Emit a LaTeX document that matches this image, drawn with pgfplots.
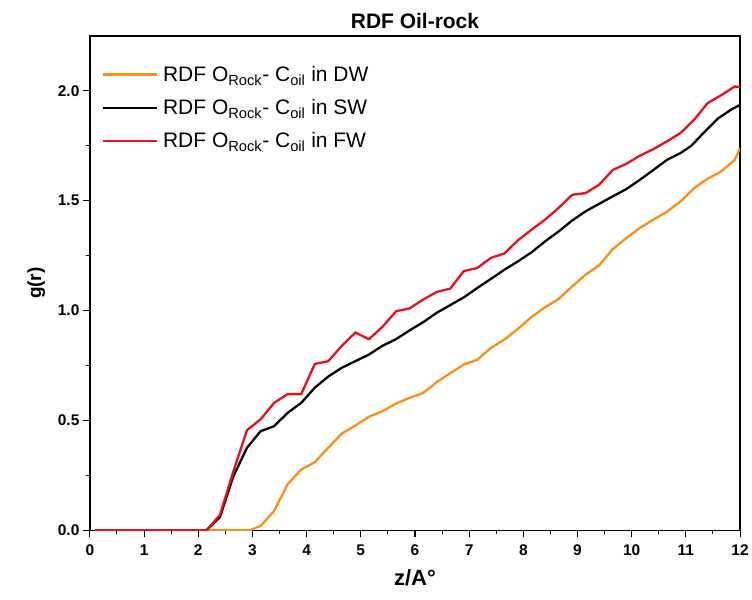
\documentclass[border=0pt]{standalone}
\usepackage{fontspec}
\setmainfont{Liberation Sans}
\usepackage{pgfplots}
\pgfplotsset{compat=1.18}
\definecolor{dworange}{RGB}{255,140,20}
\definecolor{fwred}{RGB}{235,15,25}
\begin{document}
\begin{tikzpicture}
\begin{axis}[
  scale only axis,
  width=651bp, height=495bp,
  xmin=0, xmax=12, ymin=0, ymax=2.25,
  xtick={0,1,...,12},
  ytick={0,0.5,1,1.5,2},
  minor x tick num=1,
  minor y tick num=1,
  tick align=outside,
  xtick pos=bottom, ytick pos=left,
  major tick length=7bp, minor tick length=4bp,
  axis line style={line width=1.3bp},
  every tick/.style={line width=1.1bp, black},
  every minor tick/.style={line width=1bp, black},
  /pgf/number format/assume math mode=true,
  ticklabel style={font=\fontsize{15.5bp}{18bp}\selectfont\bfseries},
  xticklabel style={yshift=-4bp},
  yticklabel style={/pgf/number format/.cd, fixed, fixed zerofill, precision=1},
  title={RDF Oil-rock},
  title style={font=\fontsize{21bp}{24bp}\selectfont\bfseries, yshift=-2bp},
  xlabel={z/A\textdegree},
  ylabel={g(r)},
  xlabel style={font=\fontsize{22bp}{26bp}\selectfont\bfseries, yshift=-7bp},
  ylabel style={font=\fontsize{19bp}{22bp}\selectfont\bfseries, yshift=6bp},
  legend style={draw=none, fill=none, at={(0.014,0.947)}, anchor=north west,
    font=\fontsize{21bp}{24bp}\selectfont, row sep=12.5bp,
    /tikz/every even column/.append style={column sep=2bp},
    nodes={inner xsep=4.5bp}},
  legend cell align=left,
  legend image code/.code={\draw[#1, line width=2.5bp] (0bp,0bp) -- (54bp,0bp);},
]
\addplot[color=dworange, line width=2.3bp] coordinates {
(0.1,0) (2.95,0) (3.15,0.02) (3.4,0.088) (3.65,0.21) (3.9,0.277) (4.15,0.31)
(4.4,0.376) (4.65,0.44) (4.9,0.477) (5.15,0.517) (5.4,0.542) (5.65,0.577)
(5.9,0.603) (6.15,0.625) (6.4,0.674) (6.65,0.715) (6.9,0.755) (7.15,0.776)
(7.4,0.83) (7.65,0.868) (7.9,0.917) (8.15,0.971) (8.4,1.015) (8.65,1.053)
(8.9,1.11) (9.15,1.164) (9.4,1.206) (9.65,1.28) (9.9,1.33) (10.15,1.376)
(10.4,1.414) (10.65,1.45) (10.9,1.497) (11.15,1.557) (11.4,1.6) (11.65,1.633)
(11.9,1.686) (12,1.74)
};
\addlegendentry{RDF O\textsubscript{Rock}- C\textsubscript{oil} in DW}
\addplot[color=black, line width=2.3bp] coordinates {
(0.1,0) (2.15,0) (2.4,0.06) (2.65,0.247) (2.9,0.376) (3.15,0.451) (3.4,0.474)
(3.65,0.535) (3.9,0.58) (4.15,0.649) (4.4,0.70) (4.65,0.74) (4.9,0.77)
(5.15,0.80) (5.4,0.84) (5.65,0.87) (5.9,0.91) (6.15,0.947) (6.4,0.99)
(6.65,1.025) (6.9,1.06) (7.15,1.103) (7.4,1.144) (7.65,1.186) (7.9,1.224)
(8.15,1.265) (8.4,1.315) (8.65,1.36) (8.9,1.41) (9.15,1.452) (9.4,1.486)
(9.65,1.52) (9.9,1.553) (10.15,1.595) (10.4,1.64) (10.65,1.686) (10.9,1.717)
(11.1,1.75) (11.35,1.815) (11.6,1.876) (11.85,1.917) (12,1.936)
};
\addlegendentry{RDF O\textsubscript{Rock}- C\textsubscript{oil} in SW}
\addplot[color=fwred, line width=2.3bp] coordinates {
(0.1,0) (2.15,0) (2.4,0.07) (2.65,0.27) (2.9,0.456) (3.15,0.505) (3.4,0.58)
(3.65,0.62) (3.9,0.62) (4.15,0.757) (4.4,0.77) (4.65,0.84) (4.9,0.90)
(5.15,0.87) (5.4,0.926) (5.65,0.997) (5.9,1.01) (6.15,1.05) (6.4,1.085)
(6.65,1.10) (6.9,1.18) (7.15,1.194) (7.4,1.24) (7.65,1.26) (7.9,1.32)
(8.15,1.368) (8.4,1.414) (8.65,1.467) (8.9,1.527) (9.15,1.535) (9.4,1.573)
(9.65,1.64) (9.9,1.668) (10.15,1.705) (10.4,1.735) (10.65,1.77) (10.9,1.808)
(11.15,1.868) (11.4,1.944) (11.65,1.98) (11.9,2.02) (12,2.017)
};
\addlegendentry{RDF O\textsubscript{Rock}- C\textsubscript{oil} in FW}
\coordinate (sw) at (rel axis cs:0,0);
\coordinate (ne) at (rel axis cs:1,1);
\end{axis}
\path (sw) ++(-90bp,-69bp) coordinate (bl);
\path (ne) ++(11bp,36bp) coordinate (tr);
\path (bl) rectangle (tr);
\end{tikzpicture}
\end{document}
